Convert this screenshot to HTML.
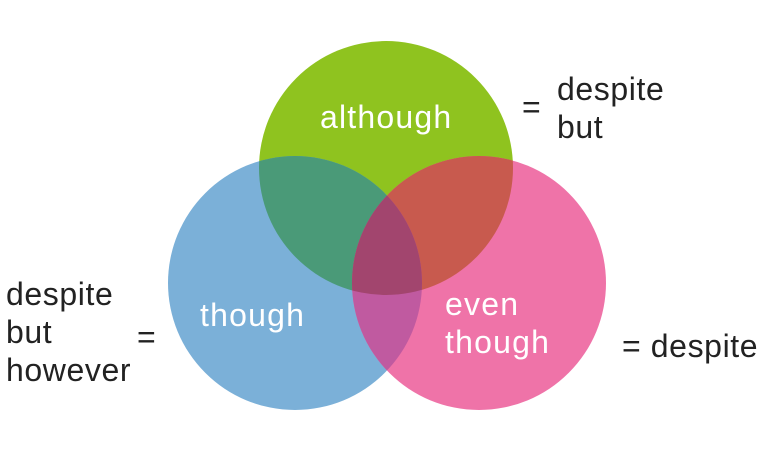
<!DOCTYPE html>
<html><head><meta charset="utf-8"><style>
html,body{margin:0;padding:0;background:#fff;}
svg{display:block}
text{font-family:"Liberation Sans",sans-serif;font-size:32px;letter-spacing:0.6px;}
.w{letter-spacing:1.2px;}
</style></head><body>
<svg width="768" height="467" viewBox="0 0 768 467" xmlns="http://www.w3.org/2000/svg">
<defs>
<clipPath id="cg"><circle cx="386" cy="168" r="127"/></clipPath>
<clipPath id="cb"><circle cx="295" cy="283" r="127"/></clipPath>
</defs>
<circle cx="386" cy="168" r="127" fill="#8fc31f"/>
<circle cx="295" cy="283" r="127" fill="#7bb0d8"/>
<circle cx="479" cy="283" r="127" fill="#ef73a8"/>
<g clip-path="url(#cg)">
<circle cx="295" cy="283" r="127" fill="#4a9a78"/>
<circle cx="479" cy="283" r="127" fill="#c85a4e"/>
</g>
<g clip-path="url(#cb)">
<circle cx="479" cy="283" r="127" fill="#c05aa0"/>
<g clip-path="url(#cg)"><circle cx="479" cy="283" r="127" fill="#a2456e"/></g>
</g>
<g fill="#fff" class="w">
<text x="320" y="128" class="w">although</text>
<text x="200" y="326" class="w">though</text>
<text x="445" y="315" class="w">even</text>
<text x="445" y="353" class="w">though</text>
</g>
<g fill="#222">
<text x="522" y="118">=</text>
<text x="557" y="100">despite</text>
<text x="557" y="138">but</text>
<text x="6" y="305">despite</text>
<text x="6" y="343">but</text>
<text x="6" y="381">however</text>
<text x="137" y="348">=</text>
<text x="622" y="357">= despite</text>
</g>
</svg>
</body></html>
